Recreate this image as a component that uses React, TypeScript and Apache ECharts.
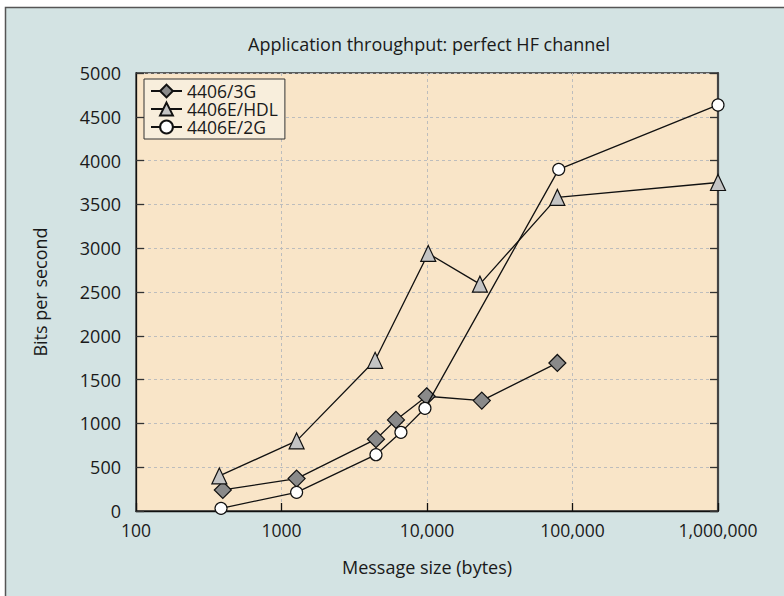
import React, { useEffect, useRef } from "react";
import * as echarts from "echarts";

const titleText = "Application throughput: perfect HF channel";
const xName = "Message size (bytes)";
const yName = "Bits per second";
const seriesNames = ["4406/3G", "4406E/HDL", "4406E/2G"];

const g3X = [395, 1270, 4460, 6120, 9950, 23800, 78700];
const g3Y = [240, 370, 820, 1040, 1310, 1260, 1690];

const hdlX = [374, 1270, 4400, 10200, 23100, 78700, 1000000];
const hdlY = [400, 800, 1720, 2940, 2590, 3580, 3750];

const e2gX = [384, 1270, 4460, 6620, 9680, 80400, 1000000];
const e2gY = [30, 213, 643, 898, 1172, 3900, 4635];

const FONT = "'Open Sans', 'Noto Sans', sans-serif";
const INK = "#1a1a1a";

function pairs(xs: number[], ys: number[]) {
  return xs.map((x, i) => [x, ys[i]]);
}

function fmtX(v: number) {
  const r = Math.round(v);
  return r >= 10000 ? r.toLocaleString("en-US") : String(r);
}

export default function App() {
  const ref = useRef<HTMLDivElement>(null);
  useEffect(() => {
    if (!ref.current) return;
    const chart = echarts.init(ref.current, undefined, { renderer: "svg" });
    const lineStyle = { color: "#111", width: 1.3 };
    chart.setOption({
      animation: false,
      backgroundColor: "transparent",
      textStyle: { fontFamily: FONT },
      graphic: [
        {
          type: "rect",
          z: -100,
          shape: { x: 5.5, y: 7.5, width: 820, height: 620 },
          style: { fill: "#d3e3e3", stroke: "#555", lineWidth: 1.5 },
        },
        {
          type: "text",
          z: 10,
          x: 429,
          y: 44,
          style: {
            text: titleText,
            fontFamily: FONT,
            fontSize: 18,
            fill: INK,
            align: "center",
            verticalAlign: "middle",
          },
        },
      ],
      legend: {
        orient: "vertical",
        left: 144,
        top: 79,
        padding: [3, 7, 3, 6],
        itemGap: 0,
        itemWidth: 31,
        itemHeight: 16,
        backgroundColor: "#f8eedc",
        borderColor: "#333",
        borderWidth: 1,
        textStyle: { fontFamily: FONT, fontSize: 17.5, color: INK, lineHeight: 18 },
        data: seriesNames,
      },
      grid: {
        left: 136,
        right: 66,
        top: 73,
        bottom: 85,
        show: true,
        backgroundColor: "#f9e5c8",
        borderColor: "#333",
        borderWidth: 1.3,
      },
      xAxis: [
        {
          type: "log",
          logBase: 10,
          min: 100,
          max: 1000000,
          name: xName,
          nameLocation: "middle",
          nameGap: 47,
          nameTextStyle: { fontFamily: FONT, fontSize: 18, color: INK },
          axisLine: { show: true, lineStyle: { color: "#111", width: 1.3 } },
          axisTick: { show: true, inside: true, length: 8, lineStyle: { color: "#111", width: 1.3 } },
          minorTick: { show: false },
          axisLabel: { margin: 10, fontFamily: FONT, fontSize: 17.5, color: INK, formatter: fmtX },
          splitLine: { show: true, lineStyle: { color: "#bdbdbd", type: [3, 3], width: 1 } },
        },
      ],
      yAxis: [
        {
          type: "value",
          min: 0,
          max: 5000,
          interval: 500,
          name: yName,
          nameLocation: "middle",
          nameGap: 87,
          nameTextStyle: { fontFamily: FONT, fontSize: 18, color: INK },
          axisLine: { show: true, lineStyle: { color: "#111", width: 1.3 } },
          axisTick: { show: true, inside: true, length: 8, lineStyle: { color: "#333", width: 1.3 } },
          axisLabel: {
            margin: 15,
            fontFamily: FONT,
            fontSize: 18,
            color: INK,
            formatter: (v: number) => String(Math.round(v)),
          },
          splitLine: { show: true, lineStyle: { color: "#bdbdbd", type: [3, 3], width: 1 } },
        },
        {
          type: "value",
          min: 0,
          max: 5000,
          interval: 500,
          position: "right",
          axisLine: { show: true, lineStyle: { color: "#444", width: 2.2 } },
          axisTick: { show: true, inside: true, length: 8, lineStyle: { color: "#333", width: 1.3 } },
          axisLabel: { show: false },
          splitLine: { show: false },
        },
      ],
      series: [
        {
          name: seriesNames[0],
          type: "line",
          clip: false,
          data: pairs(g3X, g3Y),
          symbol: "diamond",
          symbolSize: 17,
          lineStyle,
          itemStyle: { color: "#8a8a8a", borderColor: "#111", borderWidth: 1.2 },
          z: 3,
        },
        {
          name: seriesNames[1],
          type: "line",
          clip: false,
          data: pairs(hdlX, hdlY),
          symbol: "triangle",
          symbolSize: [15, 16],
          lineStyle,
          itemStyle: { color: "#c4c4c4", borderColor: "#111", borderWidth: 1.2 },
          z: 4,
        },
        {
          name: seriesNames[2],
          type: "line",
          clip: false,
          data: pairs(e2gX, e2gY),
          symbol: "circle",
          symbolSize: 12,
          lineStyle,
          itemStyle: { color: "#ffffff", borderColor: "#111", borderWidth: 1.2 },
          z: 5,
        },
      ],
    });
    return () => chart.dispose();
  }, []);
  return (
    <div
      ref={ref}
      style={{ position: "fixed", left: 0, top: 0, width: 784, height: 596, background: "#ffffff" }}
    />
  );
}
